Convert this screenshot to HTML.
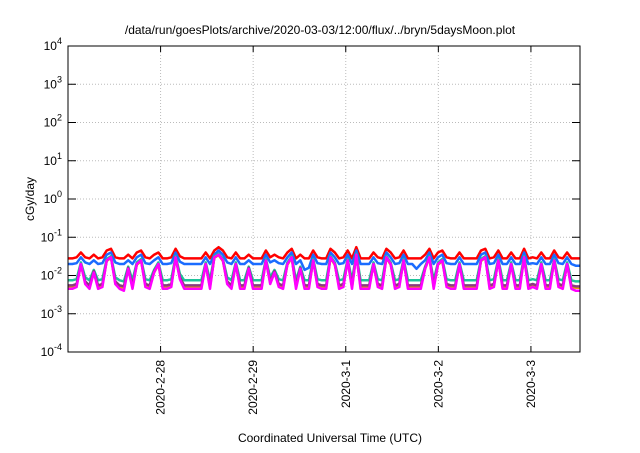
<!DOCTYPE html>
<html><head><meta charset="utf-8"><style>
body{margin:0;background:#fff;font-family:"Liberation Sans",sans-serif}
svg text{font-family:"Liberation Sans",sans-serif;font-size:12px;fill:#000}
</style></head><body>
<svg id="c" width="640" height="448" xmlns="http://www.w3.org/2000/svg">
<text x="320" y="34" text-anchor="middle">/data/run/goesPlots/archive/2020-03-03/12:00/flux/../bryn/5daysMoon.plot</text>
<text x="330" y="442" text-anchor="middle">Coordinated Universal Time (UTC)</text>
<text transform="translate(34,199) rotate(-90)" text-anchor="middle">cGy/day</text>
</svg>
<script>
const yTickExps=[-4,-3,-2,-1,0,1,2,3,4];
const xTickLabels=["2020-2-28","2020-2-29","2020-3-1","2020-3-2","2020-3-3"];
const xTickDays=[1,2,3,4,5];
const tStartDay=0, tEndDay=5.53;
const red=[.028,.028,.03,.04,.03,.028,.035,.028,.03,.045,
.05,.03,.028,.028,.035,.028,.04,.045,.03,.028,
.035,.04,.028,.028,.03,.05,.032,.028,.028,.028,
.028,.028,.04,.028,.045,.055,.045,.03,.028,.04,
.028,.028,.035,.028,.028,.028,.045,.03,.035,.03,
.028,.04,.05,.028,.035,.028,.028,.045,.03,.028,
.028,.05,.04,.028,.03,.045,.028,.055,.028,.028,
.028,.04,.03,.028,.05,.04,.028,.03,.045,.028,
.028,.028,.028,.035,.05,.028,.04,.045,.03,.028,
.028,.04,.028,.028,.028,.028,.045,.05,.028,.03,
.045,.028,.028,.04,.028,.028,.05,.028,.03,.028,
.04,.028,.028,.045,.03,.028,.04,.028,.028,.028];
const blue=[.02,.02,.021,.03,.022,.02,.025,.02,.021,.035,
.04,.022,.02,.02,.025,.02,.03,.035,.021,.02,
.025,.03,.02,.02,.021,.04,.023,.02,.02,.02,
.02,.02,.03,.02,.035,.045,.035,.022,.02,.03,
.02,.02,.025,.02,.02,.02,.035,.022,.025,.021,
.02,.03,.04,.02,.025,.014,.016,.035,.021,.02,
.02,.04,.03,.02,.021,.035,.02,.045,.02,.02,
.02,.03,.021,.02,.04,.03,.02,.021,.035,.02,
.02,.015,.02,.025,.04,.02,.03,.035,.021,.02,
.02,.03,.02,.02,.02,.02,.035,.04,.02,.021,
.035,.02,.02,.03,.02,.02,.04,.02,.021,.02,
.03,.02,.02,.035,.021,.02,.03,.02,.018,.018];
const teal=[.0075,.0075,.008,.022,.009,.0075,.014,.0075,.008,.027,
.032,.009,.0075,.007,.017,.0075,.022,.027,.008,.0075,
.014,.022,.0075,.0075,.008,.032,.011,.0075,.0075,.0075,
.0075,.0075,.022,.0075,.032,.037,.027,.009,.0075,.022,
.0075,.0075,.017,.0075,.0075,.0075,.027,.009,.014,.008,
.0075,.022,.032,.0075,.017,.0075,.0075,.027,.008,.0075,
.0075,.032,.022,.0075,.008,.027,.0075,.037,.0075,.0075,
.0075,.022,.008,.0075,.032,.022,.0075,.008,.027,.0075,
.0075,.0075,.0075,.017,.032,.0075,.022,.027,.008,.0075,
.0075,.022,.0075,.0075,.0075,.0075,.027,.032,.0075,.008,
.027,.0075,.0075,.022,.0075,.0075,.032,.0075,.008,.0075,
.022,.0075,.0075,.027,.008,.0075,.022,.0075,.007,.007];
const orange=[.005,.005,.0055,.019,.0065,.005,.012,.005,.0055,.024,
.029,.0065,.005,.0048,.015,.005,.019,.024,.0055,.005,
.012,.019,.005,.005,.0055,.029,.0085,.005,.005,.005,
.005,.005,.019,.005,.029,.034,.024,.0065,.005,.019,
.005,.005,.015,.005,.005,.005,.024,.0065,.012,.0055,
.005,.019,.029,.005,.015,.005,.005,.024,.0055,.005,
.005,.029,.019,.005,.0055,.024,.005,.034,.005,.005,
.005,.019,.0055,.005,.029,.019,.005,.0055,.024,.005,
.005,.005,.005,.015,.029,.005,.019,.024,.0055,.005,
.005,.019,.005,.005,.005,.005,.024,.029,.005,.0055,
.024,.005,.005,.019,.005,.005,.029,.005,.0055,.005,
.019,.005,.005,.024,.0055,.005,.019,.005,.0048,.0048];
const purple=[.0055,.0055,.006,.02,.007,.0055,.013,.0055,.006,.025,
.03,.007,.0055,.0052,.016,.0055,.02,.025,.006,.0055,
.013,.02,.0055,.0055,.006,.03,.009,.0055,.0055,.0055,
.0055,.0055,.02,.0055,.03,.035,.025,.007,.0055,.02,
.0055,.0055,.016,.0055,.0055,.0055,.025,.007,.013,.006,
.0055,.02,.03,.0055,.016,.0055,.0055,.025,.006,.0055,
.0055,.03,.02,.0055,.006,.025,.0055,.035,.0055,.0055,
.0055,.02,.006,.0055,.03,.02,.0055,.006,.025,.0055,
.0055,.0055,.0055,.016,.03,.0055,.02,.025,.006,.0055,
.0055,.02,.0055,.0055,.0055,.0055,.025,.03,.0055,.006,
.025,.0055,.0055,.02,.0055,.0055,.03,.0055,.006,.0055,
.02,.0055,.0055,.025,.006,.0055,.02,.0055,.0052,.0052];
const magenta=[.0045,.0045,.005,.02,.006,.0045,.012,.0045,.005,.025,
.03,.006,.0045,.004,.015,.0045,.02,.025,.005,.0045,
.012,.02,.0045,.0045,.005,.03,.008,.0045,.0045,.0045,
.0045,.0045,.02,.0045,.03,.035,.025,.006,.0045,.02,
.0045,.0045,.015,.0045,.0045,.0045,.025,.006,.012,.005,
.0045,.02,.03,.0045,.015,.0045,.0045,.025,.005,.0045,
.0045,.03,.02,.0045,.005,.025,.0045,.035,.0045,.0045,
.0045,.02,.005,.0045,.03,.02,.0045,.005,.025,.0045,
.0045,.0045,.0045,.015,.03,.0045,.02,.025,.005,.0045,
.0045,.02,.0045,.0045,.0045,.0045,.025,.03,.0045,.005,
.025,.0045,.0045,.02,.0045,.0045,.03,.0045,.005,.0045,
.02,.0045,.0045,.025,.005,.0045,.02,.0045,.004,.004];
const L=68,R=580,T=46,B=352;
const NS="http://www.w3.org/2000/svg";
const svg=document.getElementById('c');
const xS=d=>L+(d-tStartDay)/(tEndDay-tStartDay)*(R-L);
const yS=v=>B-(Math.log10(v)+4)/8*(B-T);
function mk(t,a){const e=document.createElementNS(NS,t);for(const k in a)e.setAttribute(k,a[k]);svg.appendChild(e);return e;}
yTickExps.forEach(p=>{const y=yS(Math.pow(10,p));
 if(p>-4&&p<4){const g=mk('line',{x1:L,x2:R,y1:y,y2:y,stroke:'#bbb','stroke-dasharray':'1,2'});
 
 }
 mk('line',{x1:L,x2:L+8,y1:y,y2:y,stroke:'#000'});mk('line',{x1:R-8,x2:R,y1:y,y2:y,stroke:'#000'});
 const t=mk('text',{x:L-6,y:y+4,'text-anchor':'end'});
 
 
 t.innerHTML='10<tspan dy="-6" font-size="9">'+p+'</tspan>';});
xTickDays.forEach((d,i)=>{const x=xS(d);
 const g=mk('line',{x1:x,x2:x,y1:T,y2:B,stroke:'#bbb','stroke-dasharray':'1,2'});
 
 
 mk('line',{x1:x,x2:x,y1:B-6,y2:B,stroke:'#000'});mk('line',{x1:x,x2:x,y1:T,y2:T+6,stroke:'#000'});
 const t=mk('text',{transform:`translate(${x+4},${B+8}) rotate(-90)`,'text-anchor':'end'});
 
 
 t.textContent=xTickLabels[i];});
[[red,'#ff0000','series-red'],[blue,'#1a6cff','series-blue'],[teal,'#1fc39a','series-teal'],[orange,'#e8a000','series-orange'],[purple,'#8a3a80','series-purple'],[magenta,'#ff00ff','series-magenta']].forEach(([arr,c,n])=>{
 const pts=arr.map((v,i)=>xS(tStartDay+i/(arr.length-1)*(tEndDay-tStartDay)).toFixed(1)+','+yS(v).toFixed(1)).join(' ');
 const p=mk('polyline',{points:pts,fill:'none',stroke:c,'stroke-width':2.5,'stroke-linejoin':'round'});
 
 });
const f=mk('rect',{x:L,y:T,width:R-L,height:B-T,fill:'none',stroke:'#000'});


</script>
</body></html>
